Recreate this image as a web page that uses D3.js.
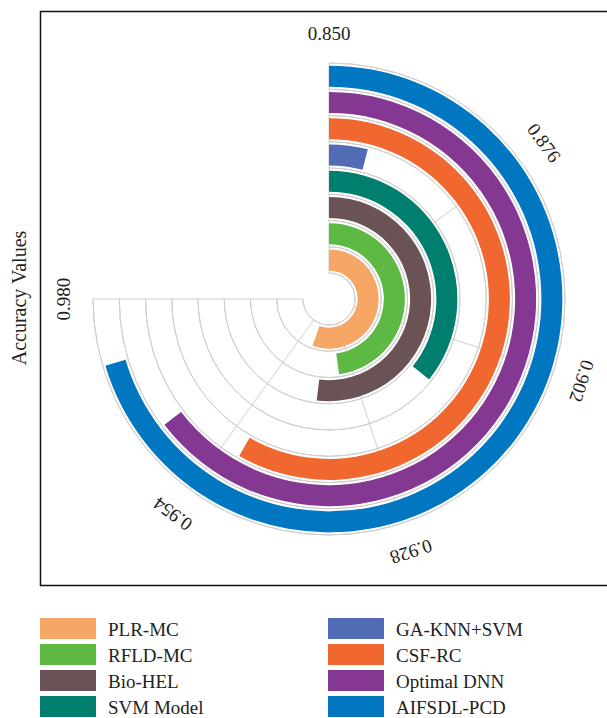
<!DOCTYPE html>
<html>
<head>
<meta charset="utf-8">
<script src="https://cdn.jsdelivr.net/npm/d3@7"></script>
<style>
  body { margin: 0; background: #fff; }
  text { font-family: "Liberation Serif", "DejaVu Serif", serif; fill: #222; }
</style>
</head>
<body>
<svg id="chart" width="607" height="718"></svg>
<script>
// models from inner ring to outer ring
const models = ["PLR-MC", "RFLD-MC", "Bio-HEL", "SVM Model", "GA-KNN+SVM", "CSF-RC", "Optimal DNN", "AIFSDL-PCD"];
const accuracy = [0.946, 0.933, 0.940, 0.912, 0.857, 0.951, 0.962, 0.972];
const colors = ["#f7a765", "#5db844", "#6b5254", "#007f6e", "#516bb4", "#f06830", "#853892", "#0077c0"];
const tickValues = [0.850, 0.876, 0.902, 0.928, 0.954, 0.980];
const tickLabels = ["0.850", "0.876", "0.902", "0.928", "0.954", "0.980"];

const svg = d3.select("#chart");
const cx = 329, cy = 299;
const innerR = 26, outerR = 236;

// frame
svg.append("rect")
  .attr("x", 40.5).attr("y", 11.5)
  .attr("width", 600).attr("height", 574)
  .attr("fill", "none")
  .attr("stroke", "#111")
  .attr("stroke-width", 1.5);

// y axis title
svg.append("text")
  .attr("transform", "translate(26,298) rotate(-90)")
  .attr("text-anchor", "middle")
  .style("font-size", "20px")
  .text("Accuracy Values");

const g = svg.append("g").attr("transform", `translate(${cx},${cy})`);

const angle = d3.scaleLinear().domain([0.85, 0.98]).range([0, 1.5 * Math.PI]);
const radius = d3.scaleBand()
  .domain(models)
  .range([innerR, outerR])
  .paddingInner(0.2)
  .paddingOuter(0.1);

const step = radius.step();
// circle gridlines at band boundaries
const gridR = models.map(m => radius(m) - step * 0.1).concat([outerR]);

const gridArc = d3.arc()
  .innerRadius(d => d)
  .outerRadius(d => d)
  .startAngle(angle(0.85))
  .endAngle(angle(0.98));

g.selectAll(".grid-circle")
  .data(gridR)
  .enter()
  .append("path")
  .attr("class", "grid-circle")
  .attr("d", gridArc)
  .attr("fill", "none")
  .attr("stroke", "#cfcfcf")
  .attr("stroke-width", 1);

// radial gridlines
g.selectAll(".grid-spoke")
  .data(tickValues)
  .enter()
  .append("line")
  .attr("class", "grid-spoke")
  .attr("x1", d => innerR * Math.sin(angle(d)))
  .attr("y1", d => -innerR * Math.cos(angle(d)))
  .attr("x2", d => outerR * Math.sin(angle(d)))
  .attr("y2", d => -outerR * Math.cos(angle(d)))
  .attr("stroke", "#cfcfcf")
  .attr("stroke-width", 1);

// bars
const barArc = d3.arc()
  .innerRadius((d, i) => radius(models[i]))
  .outerRadius((d, i) => radius(models[i]) + radius.bandwidth())
  .startAngle(angle(0.85))
  .endAngle(d => angle(d));

g.selectAll(".bar")
  .data(accuracy)
  .enter()
  .append("path")
  .attr("class", "bar")
  .attr("d", (d, i) => barArc(d, i))
  .attr("fill", (d, i) => colors[i]);

// angular tick labels
const labelR = 266;
g.selectAll(".tick-label")
  .data(tickValues)
  .enter()
  .append("text")
  .attr("class", "tick-label")
  .attr("transform", d => {
    const a = angle(d);
    const x = labelR * Math.sin(a), y = -labelR * Math.cos(a);
    return `translate(${x},${y}) rotate(${a * 180 / Math.PI})`;
  })
  .attr("text-anchor", "middle")
  .attr("dy", "0.35em")
  .style("font-size", "19px")
  .text((d, i) => tickLabels[i]);

// legend
const legend = svg.append("g")
  .selectAll(".legend")
  .data(models)
  .enter()
  .append("g")
  .attr("class", "legend")
  .attr("transform", (d, i) => `translate(${i < 4 ? 40 : 328},${618 + (i % 4) * 26})`);

legend.append("rect")
  .attr("width", 56)
  .attr("height", 21)
  .attr("fill", (d, i) => colors[i]);

legend.append("text")
  .attr("x", 68)
  .attr("y", 11)
  .attr("dy", "0.35em")
  .style("font-size", "19px")
  .text(d => d);
</script>
</body>
</html>
